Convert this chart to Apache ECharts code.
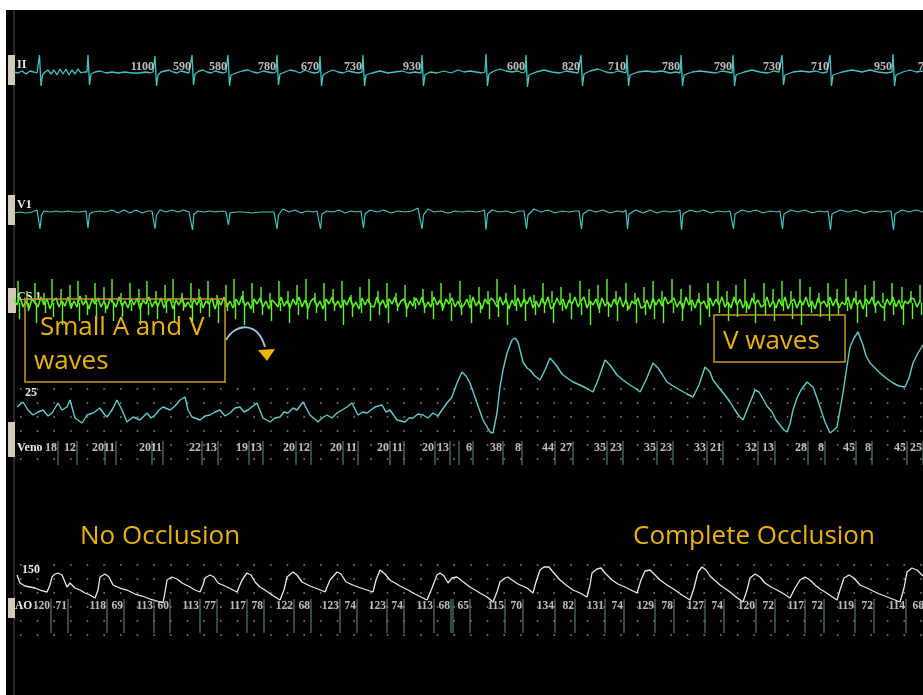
<!DOCTYPE html>
<html><head><meta charset="utf-8">
<script src="https://cdn.jsdelivr.net/npm/echarts@6.0.0/dist/echarts.min.js"></script>
<style>html,body{margin:0;padding:0;background:#fff;}#c{width:923px;height:695px;}</style>
</head><body><div id="c"></div>
<script>
// ---- time axis is in samples (~16 ms each) ----
// Lead II (mV)
const leadII = [
[14,0.05],[18,0.0],[22,0.1],[26,-0.05],[30,0.1],[34,0.05],[37,0.0],
[38,0.05],[39.5,0.9],[41,-0.65],[42.5,-0.1],[45,0.05],[48,0.15],[51,-0.05],[54,0.15],[57,-0.1],[60,0.2],[63,-0.05],[66,0.2],[69,-0.1],[72,0.15],[75,-0.05],[78,0.2],[81,0.0],[84,0.05],[86,0.0],
[87,0.05],[88,0.9],[89.5,-0.6],[91,-0.05],[95,0.05],[100,0.1],[106,0.0],[112,0.05],[118,0.0],[125,0.05],[132,0.0],[140,0.0],[146,0.05],[150,0.0],[153,0.05],
[154,0.0],[155,0.85],[156.5,-0.65],[158,-0.1],[161,0.05],[165,0.1],[169,0.15],[173,0.05],[177,0.0],[181,0.1],[185,0.05],[189,0.0],
[191,0.05],[192,0.9],[193.5,-0.6],[195,-0.05],[199,0.1],[203,0.15],[207,0.05],[211,0.0],[215,0.1],[219,0.05],[223,0.0],[226,0.05],
[227,0.0],[228,0.9],[229.5,-0.65],[231,-0.1],[236,0.0],[242,0.1],[248,0.15],[253,0.05],[258,0.0],[263,0.1],[268,0.05],[273,0.0],[276,0.05],
[277,0.9],[278.5,-0.6],[280,-0.05],[285,0.05],[290,0.15],[295,0.1],[300,0.0],[305,0.15],[310,0.05],[315,0.0],[319,0.05],
[320,0.85],[321.5,-0.65],[323,-0.1],[328,0.05],[333,0.15],[338,0.05],[343,0.0],[348,0.1],[353,0.05],[358,0.0],[362,0.05],
[363,0.9],[364.5,-0.65],[366,-0.1],[372,0.0],[380,0.1],[388,0.0],[395,0.05],[402,0.1],[409,0.0],[415,0.05],[421,0.0],
[422,0.9],[423.5,-0.65],[425,-0.1],[430,0.05],[437,0.0],[444,0.1],[451,0.0],[458,0.15],[464,0.05],[470,0.1],[476,0.05],[482,0.0],[485,0.05],
[486,0.95],[487.5,-0.65],[489,-0.05],[494,0.1],[500,0.2],[506,0.1],[512,0.05],[518,0.1],[522,0.0],[525,0.05],
[526,0.9],[527.5,-0.7],[529,-0.1],[536,0.05],[544,0.15],[552,0.05],[560,0.0],[566,0.1],[572,0.05],[578,0.0],[580,0.05],
[581,0.9],[582.5,-0.65],[584,-0.05],[590,0.1],[598,0.2],[606,0.05],[612,0.0],[618,0.1],[623,0.05],[626,0.0],
[627,0.9],[628.5,-0.65],[630,-0.1],[638,0.05],[646,0.1],[654,0.05],[662,0.1],[670,0.0],[676,0.05],[680,0.0],
[681,0.9],[682.5,-0.65],[684,-0.1],[692,0.05],[700,0.1],[708,0.05],[716,0.0],[722,0.1],[728,0.05],[732,0.0],
[733,0.9],[734.5,-0.65],[736,-0.1],[744,0.05],[752,0.15],[760,0.05],[768,0.0],[774,0.1],[779,0.05],[781,0.0],
[782,0.9],[783.5,-0.6],[785,-0.1],[793,0.05],[801,0.1],[809,0.05],[816,0.1],[822,0.0],[827,0.05],[829,0.0],
[830,0.9],[831.5,-0.65],[833,-0.1],[842,0.05],[852,0.15],[862,0.05],[870,0.15],[878,0.05],[886,0.0],[892,0.05],
[893,0.95],[894.5,-0.65],[896,-0.1],[903,0.05],[910,0.15],[916,0.05],[923,0.1]
];
// RR intervals (ms), written at the beat that ends each interval
const rrTimes  = [155,192,228,277,320,363,422,526,581,627,681,733,782,830,893,937];
const rrLabels = ['1100','590','580','780','670','730','930','600','820','710','780','790','730','710','950','760'];

// V1 (mV)
const leadV1 = [
[14,0.0],[20,0.05],[26,0.0],[32,0.05],[37,0.15],
[38.5,0.2],[40,-0.8],[41.5,-0.1],[44,0.1],[50,0.05],[56,0.1],[62,0.05],[68,0.1],[74,0.05],[80,0.05],[86,0.1],
[86.5,0.15],[88,-0.75],[89.5,-0.05],[93,0.05],[100,0.1],[106,0.05],[112,0.15],[118,0.0],[124,0.15],[130,0.0],[136,0.15],[142,0.0],[148,0.1],[152,0.1],
[153.5,0.2],[155,-0.8],[156.5,-0.1],[160,0.15],[166,0.05],[172,0.15],[178,0.05],[184,0.15],[189,0.05],
[191,0.15],[192.5,-0.85],[194,-0.05],[198,0.1],[204,0.05],[210,0.1],[216,0.05],[222,0.1],[226,0.05],
[227,0.1],[228.5,-0.6],[230,0.0],[236,0.05],[244,0.05],[252,0.0],[260,0.05],[268,0.05],[274,0.05],
[275.5,0.1],[277,-0.8],[278.5,-0.1],[283,0.2],[289,0.05],[295,0.15],[301,0.0],[307,0.1],[313,0.05],[317,0.1],
[319,0.15],[320.5,-0.8],[322,-0.05],[327,0.1],[333,0.05],[339,0.15],[345,0.0],[351,0.1],[357,0.05],[361,0.1],
[362,0.15],[363.5,-0.75],[365,-0.05],[370,0.15],[377,0.05],[384,0.15],[391,0.0],[398,0.1],[405,0.05],[412,0.1],[418,0.25],
[420,0.35],[422,-0.8],[423.5,-0.1],[428,0.2],[434,0.05],[441,0.1],[448,0.0],[455,0.1],[462,0.05],[469,0.1],[476,0.05],[482,0.1],
[484.5,0.15],[486,-0.85],[487.5,-0.05],[492,0.15],[499,0.05],[506,0.1],[513,0.0],[520,0.1],[524,0.1],
[525,0.15],[526.5,-0.8],[528,-0.1],[534,0.2],[541,0.05],[548,0.15],[555,0.0],[562,0.1],[569,0.05],[575,0.1],[579,0.1],
[580,0.15],[581.5,-0.8],[583,-0.05],[589,0.15],[596,0.05],[603,0.15],[610,0.0],[617,0.1],[623,0.05],
[626,0.15],[627.5,-0.8],[629,-0.05],[636,0.15],[643,0.0],[650,0.15],[657,0.0],[664,0.1],[671,0.05],[677,0.1],
[680,0.15],[681.5,-0.85],[683,-0.05],[690,0.15],[697,0.05],[704,0.15],[711,0.0],[718,0.1],[725,0.05],[730,0.1],
[732,0.15],[733.5,-0.8],[735,-0.05],[742,0.15],[749,0.05],[756,0.15],[763,0.0],[770,0.1],[777,0.05],[780,0.1],
[781,0.15],[782.5,-0.8],[784,-0.05],[791,0.15],[798,0.05],[805,0.15],[812,0.0],[819,0.1],[825,0.05],[828,0.1],
[829,0.15],[830.5,-0.85],[832,-0.05],[840,0.15],[848,0.05],[856,0.15],[864,0.0],[872,0.1],[880,0.05],[887,0.1],[891,0.1],
[892,0.15],[893.5,-0.85],[895,-0.05],[902,0.15],[909,0.05],[916,0.15],[923,0.05]
];

// CS bipolar electrogram (mV): low-level baseline, uniformly sampled
const csStart = 14, csStep = 3;
const csBaseline = [
0.2,-0.1,0.3,-0.2,0.1,-0.3,0.2,0.0,-0.2,0.3,
-0.1,0.2,-0.3,0.1,0.25,-0.2,0.1,-0.15,0.3,-0.25,
0.1,-0.2,0.35,-0.1,0.15,-0.3,0.2,-0.05,0.25,-0.2,
0.1,-0.3,0.2,0.05,-0.2,0.3,-0.15,0.1,-0.25,0.2,
-0.1,0.25,-0.3,0.15,-0.05,0.3,-0.2,0.1,-0.15,0.25,
-0.25,0.1,0.2,-0.3,0.15,-0.1,0.3,-0.2,0.05,-0.25,
0.2,-0.1,0.3,-0.25,0.1,-0.05,0.25,-0.3,0.15,-0.1,
0.3,-0.2,0.1,-0.25,0.2,-0.1,0.35,-0.15,0.05,-0.3,
0.2,-0.05,0.25,-0.2,0.1,-0.3,0.15,0.0,-0.2,0.3,
-0.15,0.1,-0.25,0.2,-0.1,0.3,-0.2,0.15,-0.3,0.1,
0.25,-0.2,0.1,-0.3,0.2,-0.05,0.3,-0.15,0.1,-0.25,
0.15,-0.1,0.3,-0.2,0.05,-0.3,0.25,-0.1,0.2,-0.15,
-0.2,0.3,-0.1,0.15,-0.25,0.2,-0.05,0.3,-0.2,0.1,
0.2,-0.3,0.1,-0.15,0.25,-0.1,0.3,-0.25,0.05,-0.2,
0.3,-0.1,0.15,-0.3,0.2,-0.05,0.25,-0.2,0.1,-0.25,
-0.1,0.2,-0.25,0.3,-0.15,0.1,-0.3,0.2,-0.05,0.25,
0.1,-0.2,0.3,-0.1,0.2,-0.3,0.15,-0.15,0.25,-0.2,
0.2,-0.05,0.3,-0.25,0.1,-0.2,0.25,-0.1,0.3,-0.3,
-0.15,0.25,-0.1,0.2,-0.3,0.15,-0.05,0.3,-0.2,0.1,
0.3,-0.25,0.1,-0.1,0.2,-0.3,0.25,-0.15,0.05,-0.2,
0.2,-0.1,0.3,-0.2,0.15,-0.3,0.1,-0.05,0.25,-0.25,
-0.2,0.15,-0.3,0.25,-0.1,0.2,-0.15,0.3,-0.05,0.1,
0.25,-0.2,0.1,-0.3,0.3,-0.1,0.15,-0.25,0.2,-0.05,
0.1,-0.3,0.25,-0.15,0.2,-0.1,0.3,-0.2,0.05,-0.25,
0.3,-0.1,0.2,-0.25,0.1,-0.3,0.25,-0.05,0.15,-0.2,
-0.1,0.3,-0.2,0.1,-0.25,0.2,-0.15,0.3,-0.3,0.05,
0.2,-0.25,0.15,-0.1,0.3,-0.2,0.1,-0.3,0.25,-0.05,
0.1,-0.2,0.3,-0.15,0.2,-0.25,0.05,-0.1,0.3,-0.3,
0.25,-0.1,0.15,-0.3,0.2,-0.05,0.3,-0.2,0.1,-0.15,
-0.25,0.2,-0.1,0.3,-0.2,0.15,-0.3,0.1,-0.05,0.25,
0.2,-0.2,0.1
];
// CS local activation spikes (mV): time, positive and negative deflection
const csSpikeT = [18,27,35,44,52,61,70,78,86,95,104,112,121,130,139,147,156,165,173,182,191,199,208,217,226,234,243,252,261,270,279,288,297,306,315,324,333,342,351,360,369,378,387,396,405,414,423,432,441,450,460,470,479,488,497,506,515,524,534,543,552,561,570,580,589,598,607,616,626,635,644,653,662,672,681,690,699,708,718,727,736,745,754,764,773,782,791,800,810,819,828,837,846,856,865,874,883,892,902,911,920];
const csSpikeUp = [
1.1,0.6,1.0,0.5,1.2,0.7,0.9,1.1,0.4,1.0,
0.8,1.2,0.5,1.0,0.7,1.1,0.6,0.9,1.2,0.5,
1.0,0.7,1.1,0.4,0.9,1.2,0.6,1.0,0.8,0.5,
1.1,0.6,0.9,1.2,0.5,1.0,0.7,1.1,0.4,0.8,
1.2,0.6,1.0,0.5,0.9,0.3,0.7,0.6,1.0,0.5,
1.1,0.4,0.8,0.6,1.2,0.5,0.9,0.7,0.4,1.0,
0.6,0.8,0.5,1.1,0.7,0.9,1.2,0.6,1.0,0.5,
0.8,1.1,0.6,1.2,0.7,0.9,0.5,1.0,1.1,0.6,
0.9,1.2,0.5,1.0,0.7,1.1,0.6,1.2,0.8,0.5,
1.0,0.7,1.2,0.6,0.9,1.1,0.5,1.0,0.8,0.6,
0.9];
const csSpikeDown = [
-0.8,-0.4,-1.0,-0.5,-0.7,-1.1,-0.3,-0.9,-0.6,-1.0,
-0.5,-0.9,-0.7,-0.4,-1.1,-0.6,-0.8,-0.5,-1.0,-0.4,
-0.9,-0.5,-0.7,-1.0,-0.4,-0.8,-1.1,-0.5,-0.6,-0.9,
-0.4,-1.0,-0.6,-0.8,-0.5,-0.9,-0.4,-1.1,-0.7,-0.5,
-0.9,-0.6,-1.0,-0.4,-0.7,-0.3,-0.5,-0.8,-0.4,-0.9,
-0.6,-1.0,-0.5,-0.8,-0.7,-1.1,-0.4,-0.9,-0.6,-0.5,
-1.0,-0.4,-0.8,-0.6,-1.1,-0.5,-0.7,-0.9,-0.4,-1.0,
-0.6,-0.8,-1.0,-0.5,-0.9,-0.4,-1.1,-0.7,-0.5,-0.9,
-0.7,-0.5,-1.0,-0.6,-0.9,-0.4,-0.8,-1.1,-0.5,-0.7,
-0.9,-0.6,-0.4,-1.0,-0.7,-0.5,-0.9,-0.6,-1.1,-0.8,
-0.6];

// Venous pressure (mmHg)
const venous = [
[17,21.5],[23,24],[28,20],[33,17.5],[38,19],[43,20],[48,17],[52,18.5],[58,23.5],[62,20],[67,21.5],[70,25],[75,16],[82,13.5],[87,17.5],[93,18.5],[100,21],[104,18],[107,16.5],[112,20],[117,25],[122,20],[127,14],[133,16.5],[140,15],[147,18.5],[151,16],[155,17.5],[159,20],[163,21.5],[170,20],[175,22],[180,25],[185,26.5],[188,20],[192,16.5],[200,15],[205,17],[210,17.5],[215,19],[220,20],[225,17],[230,18.5],[235,21],[240,21.5],[244,19],[248,20],[253,22],[257,23.5],[263,16],[270,14],[275,16],[280,16.5],[284,19],[288,18.5],[293,21],[297,20],[300,22],[303,24],[310,17.5],[318,14],[322,16],[327,17.5],[332,16],[337,18.5],[342,20],[347,21.5],[352,23.5],[358,17.5],[363,19],[367,18.5],[371,20],[375,21.5],[382,22.5],[386,19],[390,20],[397,15],[405,14],[409,16],[413,16],[418,18],[423,17.5],[428,16],[433,18.5],[438,17],[442,20],[447,23.5],[452,26.5],[457,33.5],[462,39],
[466,37],[470,33.5],[477,23.5],[483,15],[490,9],[493,8.5],[497,18.5],[500,31.5],[503,40],[507,48.5],[512,55],[515,56],[518,54],[523,44],[527,41],[530,40],[535,37],[540,35],[545,40],[550,46],[556,42.5],[562,38],[567,36],[573,34],[580,32.5],[586,31],[593,29],[598,35],[605,45],[610,42.5],[617,37.5],[623,35],[630,32.5],[635,31],[640,29],[646,35],[653,43.5],[658,41],[662,38],[667,34],[673,32],[680,30],[687,28],[693,26.5],[699,32.5],[705,41.5],[710,39],[713,35],[719,31],[725,27.5],[730,24],[735,20],[739,17],[743,15],[749,22.5],[755,30],[759,29],[762,26.5],[767,22],[772,19],[776,15],[780,12.5],[784,10],[787,9],[790,13],[793,20],[797,26],[801,30],[807,34],[813,31.5],[817,26],[820,21.5],[825,14],[830,8.5],[834,10],[837,11.5],[840,20],[843,28.5],[847,42],[850,51.5],[854,56],[858,59],[863,52.5],[866,47],[870,43.5],[875,41],[880,38.5],[886,36],[893,33.5],[899,32],[905,31.5],[909,36],[913,43.5],[918,48.5],[923,52.5]
];
const venousSys = ['18','20','20','22','19','20','20','20','20','', '38','44','35','35','33','32','28','45','45'];
const venousDia = ['12','11','11','13','13','12','11','11','13','6','8','27','23','23','21','13','8','8','25'];
const venousMid = [58,105,152,202,249,296,343,390,435,459,503,555,607,657,707,758,808,856,907];
const venousEnd = [77,116,163,218,263,311,358,404,450,473,522,573,623,673,723,775,825,872,923];

// Aortic pressure (mmHg)
const aortic = [
[17,120],[20,104],[25,98],[30,96],[35,94],[40,90],[47,86],[50,100],[52,116],[55,122],[58,124],[62,120],[67,96],[70,104],[75,94],[80,90],[85,84],[90,80],[95,74],[98,90],[100,116],[105,122],[109,116],[113,100],[120,94],[127,90],[135,82],[142,78],[150,72],[157,68],[163,64],[165,86],[167,110],[172,116],[177,112],[182,104],[190,96],[195,90],[200,86],[203,100],[205,114],[210,120],[214,116],[218,104],[225,98],[231,92],[237,86],[242,110],[247,124],[251,120],[255,106],[260,96],[265,90],[272,80],[280,70],[284,90],[287,116],[293,126],[297,120],[302,106],[310,98],[318,92],[325,86],[330,110],[337,126],[341,122],[346,106],[355,98],[364,92],[373,86],[376,110],[380,130],[385,122],[390,110],[400,98],[408,90],[415,82],[421,76],[427,70],[432,94],[437,120],[440,124],[444,118],[448,104],[452,114],[457,116],[462,108],[470,96],[480,84],[487,76],[493,66],[497,86],[500,106],[505,114],[508,116],[512,110],[518,102],[527,94],[533,84],[536,106],[540,130],[544,136],[549,136],[553,126],[560,110],[566,100],[573,90],[580,84],[587,76],[590,100],[592,124],[597,132],[601,134],[605,124],[612,110],[618,102],[625,96],[631,90],[637,84],[641,110],[645,128],[650,130],[654,122],[660,110],[667,100],[675,90],[682,80],[690,70],[694,94],[698,126],[702,136],[706,130],[710,118],[720,100],[730,86],[736,76],[743,66],[747,90],[750,114],[755,122],[760,116],[765,104],[771,96],[777,90],[784,82],[790,74],[795,94],[800,110],[805,116],[810,110],[815,100],[820,92],[825,86],[831,78],[837,70],[840,90],[844,114],[849,120],[854,114],[860,100],[867,94],[875,86],[882,80],[890,74],[895,70],[900,66],[904,94],[907,126],[912,134],[917,130],[923,118]
];
const aoSys = ['120','118','113','113','117','122','123','123','113','', '115','134','131','129','127','120','117','119','114'];
const aoDia = ['71','69','60','77','78','68','74','74','68','65','70','82','74','78','74','72','72','72','68'];
const aoMid = [51,107,154,200,247,294,340,387,434,453,505,555,605,655,705,756,805,855,906];
const aoEnd = [68,124,170,217,264,311,357,404,451,470,523,575,624,674,724,775,824,874,925];

// ---------------- chart ----------------
const numLabel = {show:true, fontFamily:'Liberation Serif', fontWeight:'bold', fontSize:12, color:'#e8e8e8', formatter:'{b}'};
const aoLabel = Object.assign({}, numLabel, {fontSize:11.5});
const chName = {fontFamily:'Liberation Serif', fontWeight:'bold', fontSize:12, fill:'#e8e8e8'};
const gold = '#e8b20c', goldBorder = '#c8962a';
const annFont = '26px "Open Sans"';

const grids = [
  {left:0, right:0, top:38,  height:70},   // 0 lead II
  {left:0, right:0, top:178, height:70},   // 1 V1
  {left:0, right:0, top:268, height:70},   // 2 CS
  {left:0, right:0, top:320, height:130},  // 3 venous
  {left:0, right:0, top:436, height:32},   // 4 venous labels
  {left:0, right:0, top:545, height:90},   // 5 AO
  {left:0, right:0, top:596, height:40},   // 6 AO labels
  {left:20, right:0, top:389, height:70},  // 7 venous dots
  {left:20, right:0, top:565, height:70}   // 8 AO dots
];
const xAxes = grids.map((g,i)=>({type:'value', gridIndex:i, min:0, max: i>=7 ? 1 : 923, show:false}));
const dotAxis = (i)=>({type:'value', gridIndex:i, min:0, max:5, interval:1, show:true,
  axisLine:{show:false}, axisTick:{show:false}, axisLabel:{show:false},
  splitLine:{show:true, lineStyle:{color:'#8f8b78', width:1.6, type:[1.6,15.07]}}});
const yAxes = [
  {type:'value', gridIndex:0, min:-1.75, max:1.75, show:false},
  {type:'value', gridIndex:1, min:-1.75, max:1.75, show:false},
  {type:'value', gridIndex:2, min:-1.75, max:1.75, show:false},
  {type:'value', gridIndex:3, min:0, max:65, show:false},
  {type:'value', gridIndex:4, min:0, max:1, show:false},
  {type:'value', gridIndex:5, min:0, max:180, show:false},
  {type:'value', gridIndex:6, min:0, max:1, show:false},
  dotAxis(7), dotAxis(8)
];

const line = (idx, data, color, width) => ({type:'line', xAxisIndex:idx, yAxisIndex:idx, data, showSymbol:false, silent:true,
  lineStyle:{color, width}, itemStyle:{color}, z:3});
const labels = (idx, times, texts, y, lab) => ({type:'scatter', xAxisIndex:idx, yAxisIndex:idx, silent:true, clip:false, symbolSize:0,
  data: times.map((t,i)=>({name:texts[i], value:[t,y]})),
  label:Object.assign({position:'left', distance:1}, lab || numLabel), z:5});
const ticks = (idx, times, y, h) => ({type:'scatter', xAxisIndex:idx, yAxisIndex:idx, silent:true, clip:false,
  symbol:'rect', symbolSize:[1.3,h], itemStyle:{color:'#5c9270'}, data: times.map(t=>[t,y]), z:4});

const spikeData = [];
csSpikeT.forEach((t,i)=>{ spikeData.push([t, csSpikeUp[i]]); spikeData.push([t+1.5, csSpikeDown[i]]); });

const series = [
  line(0, leadII, '#40c4c4', 1.3),
  labels(0, rrTimes, rrLabels, 0.3),
  line(1, leadV1, '#40c4c4', 1.2),
  line(2, csBaseline.map((v,i)=>[csStart+i*csStep, v]), '#58f020', 1.6),
  {type:'bar', xAxisIndex:2, yAxisIndex:2, silent:true, barWidth:1.4, data:spikeData, itemStyle:{color:'#66f52a'}, z:3},
  line(3, venous, '#62cccc', 1.4),
  ticks(4, venousMid.concat(venousEnd), 0.47, 24),
  labels(4, venousMid, venousSys, 0.625),
  labels(4, venousEnd, venousDia, 0.625),
  line(5, aortic, '#e8e8e8', 1.3),
  ticks(6, aoMid.concat(aoEnd), 0.5, 34),
  labels(6, aoMid, aoSys, 0.75, aoLabel),
  labels(6, aoEnd, aoDia, 0.75, aoLabel)
];

const graphic = [
  {type:'rect', z:-10, shape:{x:6,y:10,width:917,height:685}, style:{fill:'#000'}},
  {type:'line', z:-5, shape:{x1:14,y1:10,x2:14,y2:695}, style:{stroke:'#505050', lineWidth:1}},
  {type:'rect', z:-4, shape:{x:8,y:55,width:7,height:30}, style:{fill:'#d2cab4'}},
  {type:'rect', z:-4, shape:{x:8,y:195,width:7,height:30}, style:{fill:'#d2cab4'}},
  {type:'rect', z:-4, shape:{x:8,y:288,width:8,height:25}, style:{fill:'#d2cab4'}},
  {type:'rect', z:-4, shape:{x:8,y:422,width:7,height:35}, style:{fill:'#d2cab4'}},
  {type:'rect', z:-4, shape:{x:8,y:598,width:7,height:20}, style:{fill:'#d2cab4'}},
  {type:'text', z:1, style:Object.assign({text:'II', x:17, y:65, verticalAlign:'middle', textVerticalAlign:'middle'}, chName)},
  {type:'text', z:1, style:Object.assign({text:'V1', x:17, y:205, verticalAlign:'middle', textVerticalAlign:'middle'}, chName)},
  {type:'text', z:1, style:Object.assign({text:'CS 1', x:17, y:297, verticalAlign:'middle', textVerticalAlign:'middle'}, chName)},
  {type:'text', z:1, style:Object.assign({text:'25', x:25, y:393, verticalAlign:'middle', textVerticalAlign:'middle'}, chName)},
  {type:'text', z:1, style:Object.assign({text:'Veno', x:17, y:448, verticalAlign:'middle', textVerticalAlign:'middle'}, chName)},
  {type:'text', z:1, style:Object.assign({text:'150', x:22, y:570, verticalAlign:'middle', textVerticalAlign:'middle'}, chName)},
  {type:'text', z:1, style:Object.assign({text:'AO', x:15, y:606, verticalAlign:'middle', textVerticalAlign:'middle'}, chName, {fontSize:11.5})},
  // annotation boxes
  {type:'rect', z:50, shape:{x:25,y:299,width:200,height:83}, style:{fill:'none', stroke:goldBorder, lineWidth:1.5}},
  {type:'text', z:51, style:{text:'Small A and V', x:40, y:328, font:annFont, fill:gold, verticalAlign:'middle', textVerticalAlign:'middle'}},
  {type:'text', z:51, style:{text:'waves', x:34, y:362, font:annFont, fill:gold, verticalAlign:'middle', textVerticalAlign:'middle'}},
  {type:'rect', z:50, shape:{x:714,y:315,width:131,height:47}, style:{fill:'none', stroke:goldBorder, lineWidth:1.5}},
  {type:'text', z:51, style:{text:'V waves', x:723, y:342, font:annFont, fill:gold, verticalAlign:'middle', textVerticalAlign:'middle'}},
  {type:'text', z:51, style:{text:'No Occlusion', x:80, y:537, font:annFont, fill:gold, verticalAlign:'middle', textVerticalAlign:'middle'}},
  {type:'text', z:51, style:{text:'Complete Occlusion', x:633, y:537, font:annFont, fill:gold, verticalAlign:'middle', textVerticalAlign:'middle'}},
  // curved arrow
  {type:'bezierCurve', z:50, shape:{x1:226,y1:340,cpx1:236,cpy1:322,cpx2:258,cpy2:322,x2:265,y2:347}, style:{stroke:'#9cc4e4', lineWidth:2, fill:'none'}},
  {type:'polygon', z:51, shape:{points:[[258,350],[275,349],[267,361]]}, style:{fill:'#f0b30c'}}
];

const chart = echarts.init(document.getElementById('c'), null, {renderer:'canvas'});
chart.setOption({backgroundColor:'#ffffff', animation:false, grid:grids, xAxis:xAxes, yAxis:yAxes, series, graphic});
</script></body></html>
